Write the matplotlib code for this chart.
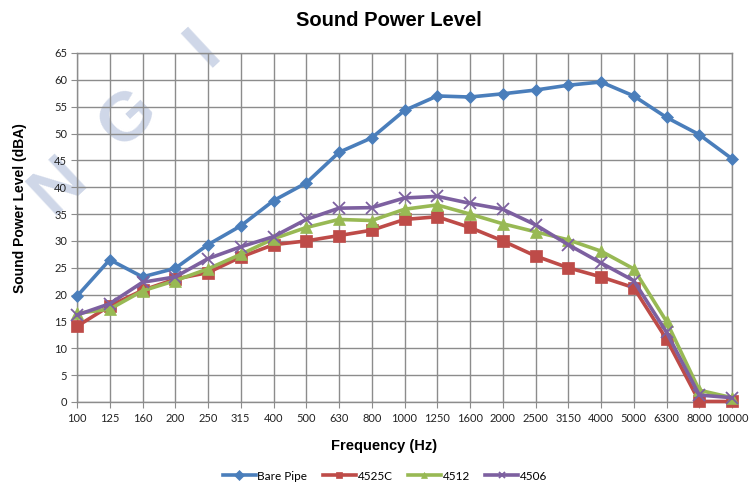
import matplotlib
matplotlib.use("Agg")
import matplotlib.pyplot as plt
import numpy as np

freqs = ["100", "125", "160", "200", "250", "315", "400", "500", "630", "800", "1000",
         "1250", "1600", "2000", "2500", "3150", "4000", "5000", "6300", "8000", "10000"]
bare_pipe = [19.7, 26.5, 23.3, 24.9, 29.3, 32.8, 37.5, 40.8, 46.5, 49.2, 54.3,
             57.0, 56.8, 57.4, 58.1, 59.0, 59.6, 57.0, 53.0, 49.8, 45.3]
s4525c = [14.1, 17.9, 20.8, 22.9, 24.1, 27.0, 29.3, 30.0, 31.0, 32.0, 34.0,
          34.5, 32.5, 30.0, 27.2, 25.0, 23.3, 21.3, 11.7, 0.1, 0.1]
s4512 = [16.5, 17.3, 20.7, 22.6, 24.8, 27.5, 30.4, 32.5, 34.0, 33.8, 35.9,
         36.7, 35.0, 33.2, 31.7, 30.2, 28.1, 24.8, 15.0, 2.2, 0.8]
s4506 = [16.2, 18.3, 22.3, 23.3, 26.7, 28.9, 30.8, 34.0, 36.1, 36.2, 38.0,
         38.3, 37.0, 35.9, 33.0, 29.3, 25.9, 22.6, 13.0, 1.3, 0.8]
series_names = ["Bare Pipe", "4525C", "4512", "4506"]
watermark_letters = ["N", "G", "I"]

W, H = 755, 482
fig = plt.figure(figsize=(W / 100, H / 100), dpi=100)
fig.patch.set_facecolor("white")

# faint watermark letters along a diagonal
wm_pos = [(58, 186), (128, 119), (203, 48)]
for ch, (px, py) in zip(watermark_letters, wm_pos):
    fig.text(px / W, 1 - py / H, ch, fontsize=50, fontweight="bold",
             family="Liberation Sans", color="#cfd7e8", rotation=43,
             ha="center", va="center", zorder=-5)

L, R, T, B = 77, 732, 53, 402
ax = fig.add_axes([L / W, 1 - B / H, (R - L) / W, (B - T) / H])
ax.set_facecolor("none")

x = np.arange(len(freqs))
styles = [
    (bare_pipe, "#4A7EBB", "D", 6.5),
    (s4525c, "#BE4B48", "s", 8),
    (s4512, "#98B954", "^", 8),
    (s4506, "#7D60A0", "x", 8),
]
for (vals, col, mk, ms), name in zip(styles, series_names):
    ax.plot(x, vals, color=col, lw=2.6, marker=mk, markersize=ms,
            markeredgewidth=1.3 if mk == "x" else 0.5,
            markeredgecolor=col, markerfacecolor=col, label=name,
            clip_on=False, zorder=3)

ax.set_xlim(0, len(freqs) - 1)
ax.set_ylim(0, 65)
ax.set_yticks(np.arange(0, 66, 5))
ax.set_xticks(x)
ax.set_xticklabels(freqs)
ax.grid(True, color="#8c8c8c", lw=1.0, zorder=0)
ax.set_axisbelow(True)
for sp in ax.spines.values():
    sp.set_color("#8c8c8c")
    sp.set_linewidth(1.0)
ax.tick_params(axis="both", length=4, color="#8c8c8c", labelsize=8,
               labelcolor="#222222")
for lbl in ax.get_xticklabels() + ax.get_yticklabels():
    lbl.set_family("Lato")
ax.tick_params(axis="x", pad=4)
ax.tick_params(axis="y", pad=3)

fig.text(389 / W, 1 - 21 / H, "Sound Power Level", ha="center", va="center",
         fontsize=14.5, fontweight="bold", family="Liberation Sans")
fig.text(384 / W, 1 - 446 / H, "Frequency (Hz)", ha="center", va="center",
         fontsize=10.5, fontweight="bold", family="Liberation Sans")
fig.text(20 / W, 1 - 208 / H, "Sound Power Level (dBA)", ha="center", va="center",
         rotation=90, fontsize=10, fontweight="bold", family="Liberation Sans")

leg = fig.legend(loc="center", bbox_to_anchor=(385 / W, 1 - 476 / H), ncol=4,
                 frameon=False, handlelength=2.8, columnspacing=1.3,
                 handletextpad=0.15, prop={"family": "Lato", "size": 8.5})
for h in leg.legend_handles:
    h.set_markersize(5)

fig.savefig("out.png", dpi=100)
